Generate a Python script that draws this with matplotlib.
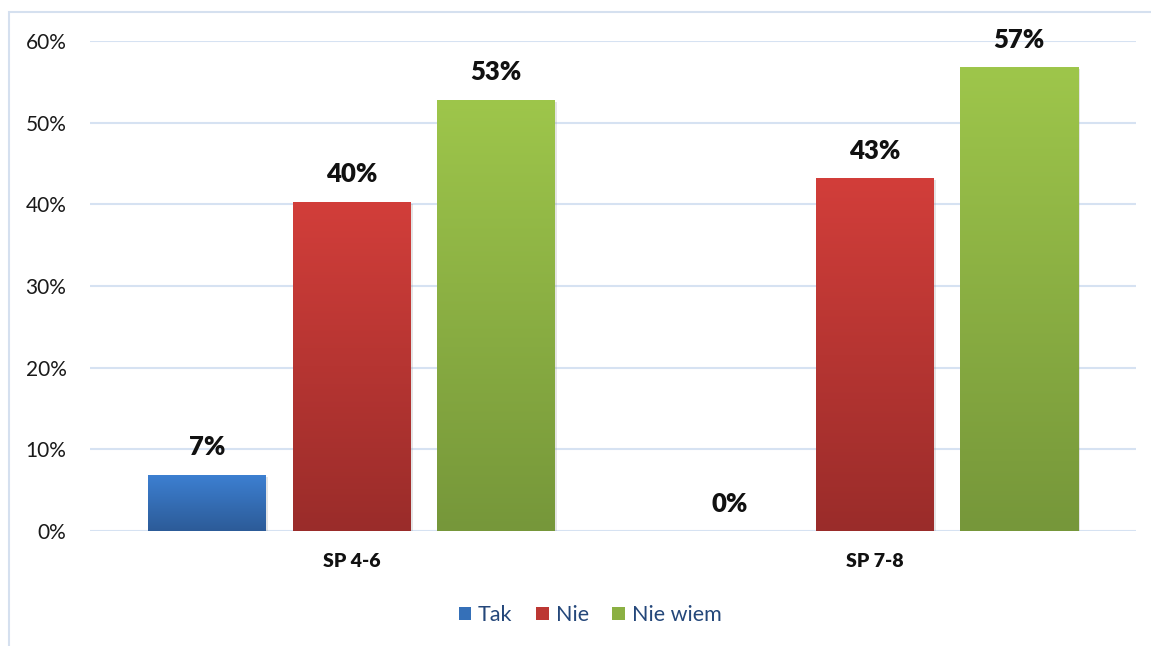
import matplotlib
matplotlib.use("Agg")
import matplotlib.pyplot as plt
import numpy as np
from matplotlib.patches import Rectangle, Patch
from matplotlib.colors import LinearSegmentedColormap
import matplotlib.patheffects as pe

categories = ["SP 4-6", "SP 7-8"]
series = ["Tak", "Nie", "Nie wiem"]
tak = [6.9, 0.0]
nie = [40.3, 43.2]
nie_wiem = [52.8, 56.8]
yticks = [0, 10, 20, 30, 40, 50, 60]

top_colors = ["#3D80D2", "#D23E3A", "#9EC64B"]
bot_colors = ["#2C5B98", "#9A2C2A", "#76973A"]
mid_colors = ["#3570B8", "#BC3733", "#8BB043"]

plt.rcParams['font.family'] = ['Lato', 'DejaVu Sans']

fig = plt.figure(figsize=(11.51, 6.46), dpi=100)
ax = fig.add_axes([90/1151, 1 - 531/646, (1136-90)/1151, (531-41)/646])

# outer frame
fig.patches.append(Rectangle((9/1151, -0.05), 1.2, 1 - 12/646 + 0.05,
                             transform=fig.transFigure, fill=False,
                             edgecolor="#D5E0EF", linewidth=1.5, zorder=0))

x = np.arange(len(categories))
width = 118/523
pitch = 144.5/523
data = [tak, nie, nie_wiem]

for i, (vals, name) in enumerate(zip(data, series)):
    offs = x + (i - 1) * pitch
    bars = ax.bar(offs, vals, width=width, color=mid_colors[i], label=name, zorder=3,
                  path_effects=[pe.SimplePatchShadow(offset=(1.5, -1.5), shadow_rgbFace="#999999", alpha=0.25),
                                pe.Normal()])
    cmap = LinearSegmentedColormap.from_list("g%d" % i, [bot_colors[i], top_colors[i]])
    for b, v in zip(bars, vals):
        if v <= 0:
            continue
        bx, by = b.get_x(), b.get_y()
        bw, bh = b.get_width(), b.get_height()
        grad = np.linspace(0, 1, 256).reshape(-1, 1)
        im = ax.imshow(grad, cmap=cmap, origin="lower", aspect="auto",
                       extent=[bx, bx + bw, by, by + bh], zorder=4)
        im.set_clip_path(b)
    for xx, v in zip(offs, vals):
        ax.annotate(f"{v:.0f}%", xy=(xx, v), xytext=(0, 14), textcoords="offset points",
                    ha="center", va="baseline", fontsize=18.5, fontweight="heavy",
                    color="#111111", zorder=6, annotation_clip=False)

ax.set_xlim(-0.5, 1.5)
ax.set_ylim(0, 60)
ax.set_yticks(yticks)
ax.set_yticklabels([f"{t}%" for t in yticks], fontsize=15, color="#1a1a1a")
ax.set_xticks(x)
ax.set_xticklabels(categories, fontsize=14, fontweight="heavy", color="#111111")
ax.tick_params(axis="y", length=0, pad=17)
ax.tick_params(axis="x", length=0, pad=16)
ax.grid(axis="y", color="#D6E2F2", linewidth=1.5, zorder=0)
ax.set_axisbelow(True)
for s in ax.spines.values():
    s.set_visible(False)

handles = [Patch(facecolor=mid_colors[i], label=series[i]) for i in range(3)]
leg = fig.legend(handles=handles, loc="center", bbox_to_anchor=(590/1151, 1 - 615/646),
                 ncol=3, frameon=False, fontsize=15.5, handlelength=0.6, handleheight=0.6,
                 handletextpad=0.3, columnspacing=1.1)
for t in leg.get_texts():
    t.set_color("#24477A")

fig.savefig("out.png", dpi=100)
